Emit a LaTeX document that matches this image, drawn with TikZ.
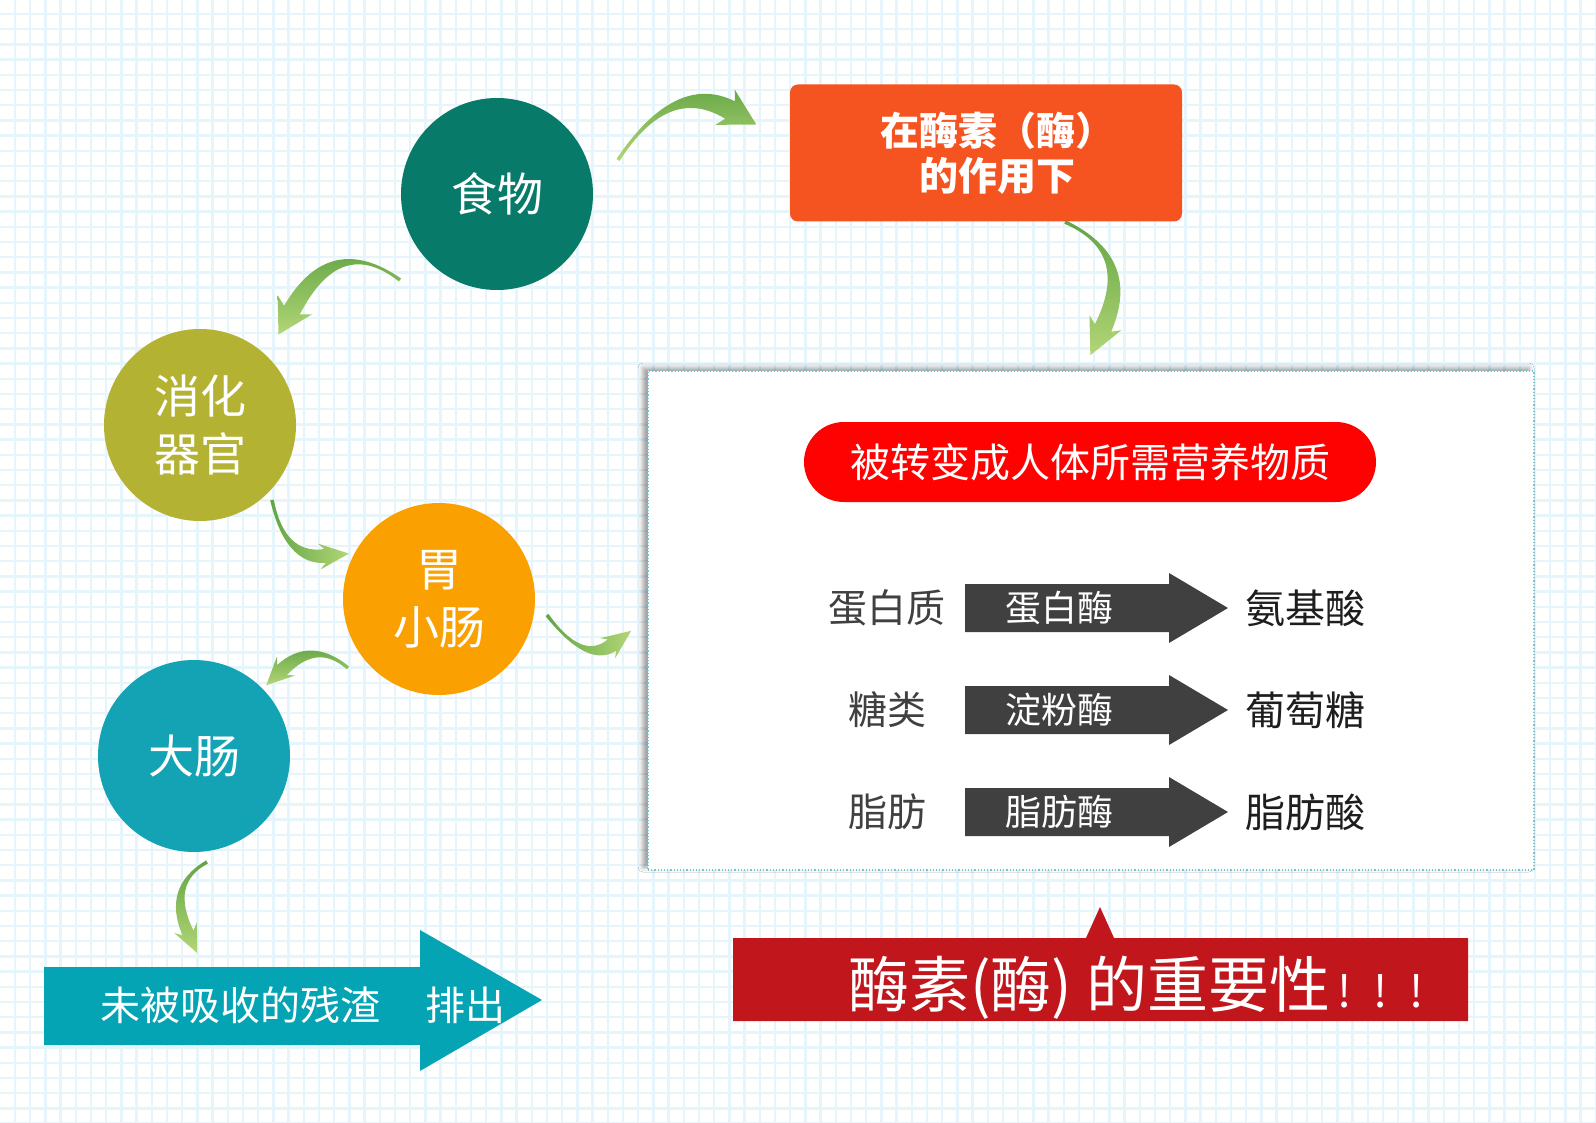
\documentclass[tikz,border=0pt]{standalone}
\usepackage{fontspec}
\setmainfont{Noto Sans CJK SC}
\usetikzlibrary{calc,shadows.blur}
\definecolor{gridc}{RGB}{230,244,252}
\definecolor{cFood}{RGB}{7,122,106}
\definecolor{cOrgan}{RGB}{180,178,50}
\definecolor{cStom}{RGB}{250,160,0}
\definecolor{cColon}{RGB}{20,163,180}
\definecolor{cEnz}{RGB}{245,83,31}
\definecolor{cPill}{RGB}{254,2,2}
\definecolor{cBan}{RGB}{193,22,27}
\definecolor{cTeal}{RGB}{4,164,180}
\definecolor{cDark}{RGB}{64,64,64}
\definecolor{cLbl}{RGB}{64,64,64}
\definecolor{cProd}{RGB}{30,30,30}
\definecolor{cBorder}{RGB}{110,198,208}
\definecolor{gDark}{RGB}{98,164,68}
\definecolor{gLight}{RGB}{178,214,118}
% curved tapered green arrow: #1 tail, #2 control, #3 neck, #4 half shaft, #5 half head, #6 head length, #7 shading angle
\newcommand\garrow[7]{%
  \path ($(#3)!#4!90:(#2)$) coordinate (gNL)
        ($(#3)!#4!-90:(#2)$) coordinate (gNR)
        ($(#3)!#5!90:(#2)$) coordinate (gHLa)
        ($(#3)!#5!-90:(#2)$) coordinate (gHRa)
        ($(#3)!-#6!(#2)$) coordinate (gH)
        ($(#2)!0.6*#4+1pt!-90:(#3)$) coordinate (gCL)
        ($(#2)!0.6*#4+1pt!90:(#3)$) coordinate (gCR)
        ($(#1)!1.8pt!-90:(#2)$) coordinate (gTL)
        ($(#1)!1.8pt!90:(#2)$) coordinate (gTR);
  \path ($(gHLa)!6pt!(#2)$) coordinate (gHL) ($(gHRa)!6pt!(#2)$) coordinate (gHR);
  \shade[top color=gDark, bottom color=gLight, shading angle=#7]
    (gTL) .. controls ($(gTL)!0.667!(gCL)$) and ($(gNL)!0.667!(gCL)$) .. (gNL)
    -- (gHL) -- (gH) -- (gHR) -- (gNR)
    .. controls ($(gNR)!0.667!(gCR)$) and ($(gTR)!0.667!(gCR)$) .. (gTR) -- cycle;
}
\begin{document}
\begin{tikzpicture}[x=1pt,y=-1pt,
  gridln/.style={draw=gridc, line width=2.4pt},
  circ/.style={circle, minimum size=192pt, inner sep=0pt, text=white, align=center,
    font=\fontsize{46}{58}\selectfont},
  lbl/.style={text=cLbl, inner sep=0pt, font=\fontsize{39}{45}\selectfont},
  enzlbl/.style={text=white, inner sep=0pt, font=\fontsize{36}{42}\selectfont},
  prod/.style={text=cProd, inner sep=0pt, font=\fontsize{40}{46}\selectfont},
  wtxt/.style={text=white, inner sep=0pt, font=\fontsize{40}{46}\selectfont}]
\useasboundingbox (0,0) rectangle (1596,1123);
\fill[white] (0,0) rectangle (1596,1123);
\foreach \i in {0,...,105} \draw[gridln] ({15+15.2*\i},0) -- ({15+15.2*\i},1123);
\foreach \j in {0,...,73} \draw[gridln] (0,{14+15.2*\j}) -- (1596,{14+15.2*\j});

% circles
\node[circ, fill=cFood] (food) at (497,194) {食物};
\node[circ, fill=cOrgan] (organ) at (200,425) {消化\\器官};
\node[circ, fill=cStom] (stomach) at (439,599) {胃\\小肠};
\node[circ, fill=cColon] (colon) at (194,756) {大肠};

% enzyme box
\node[fill=cEnz, rounded corners=8pt, minimum width=392pt, minimum height=137pt] (enz) at (986,153) {};
\node[text=white, align=center, inner sep=0pt, font=\bfseries\fontsize{39}{45}\selectfont] (enztxt) at (997,153) {在酶素（酶）\\的作用下};

% panel
\node[draw=cBorder, dotted, line width=1.2pt, fill=white,
  blur shadow={shadow xshift=-5pt, shadow yshift=3pt, shadow blur radius=5pt},
  minimum width=886pt, minimum height=499pt] (panel) at (1091,620.5) {};
\node[fill=cPill, rounded corners=40pt, minimum width=572pt, minimum height=80pt,
  text=white, font=\fontsize{40}{48}\selectfont] (title) at (1090,462) {被转变成人体所需营养物质};

% rows
\foreach \y/\a/\b/\c/\n in {608/蛋白质/蛋白酶/氨基酸/1, 710/糖类/淀粉酶/葡萄糖/2, 812/脂肪/脂肪酶/脂肪酸/3}{
  \fill[cDark] (965,\y-24) -- (1169,\y-24) -- (1169,\y-35) -- (1228,\y) -- (1169,\y+35) -- (1169,\y+24) -- (965,\y+24) -- cycle;
  \node[lbl] (src\n) at (887,\y) {\a};
  \node[enzlbl] (enz\n) at (1059,\y) {\b};
  \node[prod] (prd\n) at (1305,\y) {\c};
}

% bottom teal arrow
\fill[cTeal] (44,967) -- (420,967) -- (420,930) -- (542,1000) -- (420,1071) -- (420,1045) -- (44,1045) -- cycle;
\node[wtxt] (residue) at (240,1005) {未被吸收的残渣};
\node[wtxt] (excrete) at (465,1005) {排出};

% banner
\fill[cBan] (733,938) -- (1086,938) -- (1100,907) -- (1114,938) -- (1468,938) -- (1468,1021) -- (733,1021) -- cycle;
\node[anchor=base west, text=white, inner sep=0pt, font=\fontsize{61}{70}\selectfont] (imp) at (848,1007) {酶素(酶) 的重要性{\fontsize{44}{50}\selectfont\,!\hspace{22pt}!\hspace{22pt}!}};

% green curved arrows
\coordinate (a1t) at (618,160); \coordinate (a1c) at (672,78); \coordinate (a1n) at (730,110);
\garrow{a1t}{a1c}{a1n}{10pt}{22pt}{30pt}{0}
\coordinate (a2t) at (400,280); \coordinate (a2c) at (335,232); \coordinate (a2n) at (292,310);
\garrow{a2t}{a2c}{a2n}{9pt}{21pt}{28pt}{0}
\coordinate (a3t) at (272,500); \coordinate (a3c) at (285,560); \coordinate (a3n) at (325,556);
\garrow{a3t}{a3c}{a3n}{7pt}{15pt}{24pt}{90}
\coordinate (a4t) at (348,668); \coordinate (a4c) at (314,639); \coordinate (a4n) at (282,670);
\garrow{a4t}{a4c}{a4n}{7pt}{15pt}{22pt}{0}
\coordinate (a5t) at (547,615); \coordinate (a5c) at (585,665); \coordinate (a5n) at (612,645);
\garrow{a5t}{a5c}{a5n}{7pt}{15pt}{24pt}{90}
\coordinate (a6t) at (1065,222); \coordinate (a6c) at (1137,255); \coordinate (a6n) at (1103,328);
\garrow{a6t}{a6c}{a6n}{9pt}{19pt}{30pt}{0}
\coordinate (a7t) at (207,862); \coordinate (a7c) at (166,885); \coordinate (a7n) at (188,933);
\garrow{a7t}{a7c}{a7n}{6pt}{14pt}{22pt}{0}
\end{tikzpicture}
\end{document}
